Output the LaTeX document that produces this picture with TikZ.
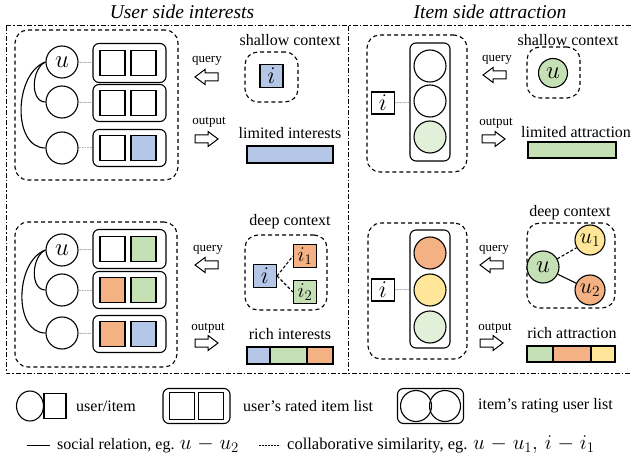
\RequirePackage{fix-cm}
\documentclass[tikz,border=0pt]{standalone}
\usepackage{fontspec}
\setmainfont{Liberation Serif}
\usetikzlibrary{shapes.geometric}
\definecolor{cblue}{HTML}{B4C7E7}
\definecolor{cgreen}{HTML}{C5E0B4}
\definecolor{corange}{HTML}{F4B183}
\definecolor{cyellow}{HTML}{FFE699}
\definecolor{clight}{HTML}{E2F0D9}
\newcommand{\lgmath}[1]{{\fontsize{21}{23}\selectfont$#1$}}
\begin{document}
\begin{tikzpicture}[x=1pt,y=-1pt,
  every node/.style={font=\fontsize{16}{19}\selectfont, inner sep=0pt},
  ttl/.style={font=\fontsize{19.5}{22}\selectfont\itshape},
  lbl/.style={font=\fontsize{13}{15}\selectfont},
  lgd/.style={font=\fontsize{16}{19}\selectfont, anchor=west},
  lgdb/.style={font=\fontsize{16.5}{19}\selectfont, anchor=west},
  ucirc/.style={circle, draw, line width=1.1pt, minimum size=32pt, font=\fontsize{25}{27}\selectfont},
  isq/.style={rectangle, draw, line width=1.1pt, minimum size=25pt, font=\fontsize{24}{26}\selectfont},
  listbox/.style={rectangle, draw, line width=1.1pt, rounded corners=6pt},
  ctxbox/.style={rectangle, draw, line width=1.1pt, dash pattern=on 4pt off 3pt, rounded corners=13pt},
  outerline/.style={line width=1pt, dash pattern=on 5pt off 2pt on 1.5pt off 2pt},
  simconn/.style={draw=gray!60, line width=1pt, dash pattern=on 1pt off 0.6pt},
  bar/.style={draw, line width=1.1pt},
  larrow/.pic={\draw[line width=1pt] (0,0) -- (10,-7.5) -- (10,-4) -- (23,-4) -- (23,4) -- (10,4) -- (10,7.5) -- cycle;},
  rarrow/.pic={\draw[line width=1pt] (23,0) -- (13,-7.5) -- (13,-4) -- (0,-4) -- (0,4) -- (13,4) -- (13,7.5) -- cycle;}
]
\useasboundingbox (0,0) rectangle (632,465);

% titles
\node[ttl] (t1) at (182,12) {User side interests};
\node[ttl] (t2) at (490,12) {Item side attraction};

% outer frame
\draw[outerline] (6,26) -- (640,26);
\draw[outerline] (6,26) -- (6,373) -- (640,373);
\draw[outerline] (348,26) -- (348,373);

% ================= top-left =================
\node[ctxbox, minimum width=163pt, minimum height=150pt] (boxTL) at (96.5,105) {};
\node[ucirc] (uA1) at (62,62) {$u$};
\node[ucirc] (uA2) at (62,102) {};
\node[ucirc] (uA3) at (62,148) {};
\node[listbox, minimum width=73pt, minimum height=39pt] (lA1) at (129.5,63) {};
\node[listbox, minimum width=73pt, minimum height=37pt] (lA2) at (129.5,103) {};
\node[listbox, minimum width=73pt, minimum height=37pt] (lA3) at (129.5,148) {};
\node[isq] (sA11) at (112.5,63) {};
\node[isq] (sA12) at (143.5,63) {};
\node[isq] (sA21) at (112.5,103) {};
\node[isq] (sA22) at (143.5,103) {};
\node[isq] (sA31) at (112.5,148) {};
\node[isq, fill=cblue] (sA32) at (143.5,148) {};
\draw[simconn] (uA1) -- (lA1);
\draw[simconn] (uA2) -- (lA2);
\draw[simconn] (uA3) -- (lA3);
\draw[line width=1.1pt] (uA1.west) to[out=205,in=180] (uA2.west);
\draw[line width=1.1pt] (uA1.west) to[out=200,in=180] (uA3.west);

\node[lbl] (qA) at (207,61) {query};
\pic at (195,77) {larrow};
\node[lbl] (oA) at (209,122) {output};
\pic at (195,139) {rarrow};

\node (scA) at (290,40) {shallow context};
\node[ctxbox, minimum width=53pt, minimum height=50pt] (cbA) at (271.5,77) {};
\node[isq, minimum size=23pt, fill=cblue] (iA) at (271.5,76) {$i$};
\node (liA) at (290,133) {limited interests};
\node[bar, fill=cblue, minimum width=86pt, minimum height=17pt] (barA) at (290,154.5) {};

% ================= bottom-left =================
\node[ctxbox, minimum width=162pt, minimum height=145pt] (boxBL) at (96,294.5) {};
\node[ucirc] (uB1) at (62,250) {$u$};
\node[ucirc] (uB2) at (62,290) {};
\node[ucirc] (uB3) at (62,333) {};
\node[listbox, minimum width=73pt, minimum height=39pt] (lB1) at (129.5,249) {};
\node[listbox, minimum width=73pt, minimum height=37pt] (lB2) at (129.5,290) {};
\node[listbox, minimum width=73pt, minimum height=37pt] (lB3) at (129.5,334) {};
\node[isq] (sB11) at (112.5,249) {};
\node[isq, fill=cgreen] (sB12) at (143.5,249) {};
\node[isq, fill=corange] (sB21) at (112.5,290) {};
\node[isq, fill=cgreen] (sB22) at (143.5,290) {};
\node[isq, fill=corange] (sB31) at (112.5,334) {};
\node[isq, fill=cblue] (sB32) at (143.5,334) {};
\draw[simconn] (uB1) -- (lB1);
\draw[simconn] (uB2) -- (lB2);
\draw[simconn] (uB3) -- (lB3);
\draw[line width=1.1pt] (uB1.west) to[out=205,in=180] (uB2.west);
\draw[line width=1.1pt] (uB1.west) to[out=200,in=180] (uB3.west);

\node[lbl] (qB) at (208,250) {query};
\pic at (195,265) {larrow};
\node[lbl] (oB) at (208,328) {output};
\pic at (195,343) {rarrow};

\node (dcB) at (290,222) {deep context};
\node[ctxbox, minimum width=82pt, minimum height=75pt] (cbB) at (286,272.5) {};
\node[isq, minimum size=23pt, fill=cblue] (iB) at (265,276) {$i$};
\node[isq, minimum size=23pt, fill=corange, font=\fontsize{21}{23}\selectfont] (iB1) at (305,256) {$i_1$};
\node[isq, minimum size=23pt, fill=cgreen, font=\fontsize{21}{23}\selectfont] (iB2) at (305,292) {$i_2$};
\draw[line width=1.1pt, dash pattern=on 3pt off 2pt] (iB.east) -- (iB1.west);
\draw[line width=1.1pt, dash pattern=on 3pt off 2pt] (iB.east) -- (iB2.west);
\node (riB) at (290,334) {rich interests};
\draw[bar, fill=cblue] (247,347) rectangle (270,364);
\draw[bar, fill=cgreen] (270,347) rectangle (307,364);
\draw[bar, fill=corange] (307,347) rectangle (333,364);

% ================= top-right =================
\node[ctxbox, minimum width=100pt, minimum height=137pt] (boxTR) at (417,103.5) {};
\node[listbox, minimum width=40pt, minimum height=118pt] (lC) at (430,102) {};
\node[ucirc] (vC1) at (430,66) {};
\node[ucirc] (vC2) at (430,101) {};
\node[ucirc, fill=clight] (vC3) at (430,137) {};
\node[isq, minimum width=23pt, minimum height=22pt] (iC) at (383,103) {$i$};
\draw[simconn] (iC) -- (lC);

\node[lbl] (qC) at (497,60) {query};
\pic at (483,75) {larrow};
\node[lbl] (oC) at (496,123) {output};
\pic at (482,139) {rarrow};

\node (scC) at (568,40) {shallow context};
\node[ctxbox, minimum width=53pt, minimum height=51pt] (cbC) at (553.5,72.5) {};
\node[ucirc, minimum size=29pt, fill=cgreen] (uC) at (553,73) {$u$};
\node[anchor=west] (laC) at (521,132) {limited attraction};
\node[bar, fill=cgreen, minimum width=88pt, minimum height=16pt] (barC) at (572,150) {};

% ================= bottom-right =================
\node[ctxbox, minimum width=99pt, minimum height=136pt] (boxBR) at (417.5,291) {};
\node[listbox, minimum width=40pt, minimum height=118pt] (lD) at (430,289) {};
\node[ucirc, fill=corange] (vD1) at (430,253) {};
\node[ucirc, fill=cyellow] (vD2) at (430,290) {};
\node[ucirc, fill=clight] (vD3) at (430,327) {};
\node[isq, minimum width=23pt, minimum height=22pt] (iD) at (383,290) {$i$};
\draw[simconn] (iD) -- (lD);

\node[lbl] (qD) at (494,250) {query};
\pic at (480,265) {larrow};
\node[lbl] (oD) at (495,328) {output};
\pic at (480,343) {rarrow};

\node (dcD) at (570,213) {deep context};
\node[ctxbox, minimum width=88pt, minimum height=85pt] (cbD) at (571,265.5) {};
\node[ucirc, fill=cgreen] (uD) at (543,267) {$u$};
\node[ucirc, minimum size=30pt, fill=cyellow, font=\fontsize{22}{24}\selectfont] (uD1) at (590,240) {$u_1$};
\node[ucirc, minimum size=30pt, fill=corange, font=\fontsize{22}{24}\selectfont] (uD2) at (590,290) {$u_2$};
\draw[line width=1.1pt, dash pattern=on 3pt off 2pt] (uD) -- (uD1);
\draw[line width=1.1pt] (uD) -- (uD2);
\node (raD) at (572,333) {rich attraction};
\draw[bar, fill=cgreen] (527,346) rectangle (553,362);
\draw[bar, fill=corange] (553,346) rectangle (591,362);
\draw[bar, fill=cyellow] (591,346) rectangle (615,362);

% ================= legend =================
\node[ellipse, draw, line width=1.1pt, minimum width=27pt, minimum height=30pt] (lgC) at (30,406) {};
\node[rectangle, draw, line width=1.1pt, minimum width=22pt, minimum height=25pt] (lgS) at (55,406) {};
\node[lgd] (lgT1) at (76,406) {user/item};
\node[listbox, minimum width=67pt, minimum height=35pt] (lgL) at (196.5,406) {};
\node[rectangle, draw, line width=1.1pt, minimum width=25pt, minimum height=27pt] (lgL1) at (182,406) {};
\node[rectangle, draw, line width=1.1pt, minimum width=25pt, minimum height=27pt] (lgL2) at (211,406) {};
\node[lgd] (lgT2) at (243,406) {user’s rated item list};
\node[listbox, minimum width=66pt, minimum height=35pt] (lgR) at (430.5,406) {};
\node[circle, draw, line width=1.1pt, minimum size=31pt] (lgR1) at (416,406) {};
\node[circle, draw, line width=1.1pt, minimum size=31pt] (lgR2) at (445,406) {};
\node[lgd] (lgT3) at (478,406) {item’s rating user list};

\coordinate (sa) at (27,445);
\coordinate (sb) at (50,445);
\draw[line width=1pt] (sa) -- (sb);
\node[lgd] (lgT4) at (57,445) {social relation, eg. \lgmath{u\;{-}\;u_2}};
\coordinate (da) at (259,445);
\coordinate (db) at (280,445);
\draw[line width=0.8pt, dash pattern=on 2pt off 1pt] (da) -- (db);
\node[lgdb] (lgT5) at (287,445) {collaborative similarity, eg. \lgmath{u\;{-}\;u_1,\,i\;{-}\;i_1}};
\end{tikzpicture}
\end{document}
